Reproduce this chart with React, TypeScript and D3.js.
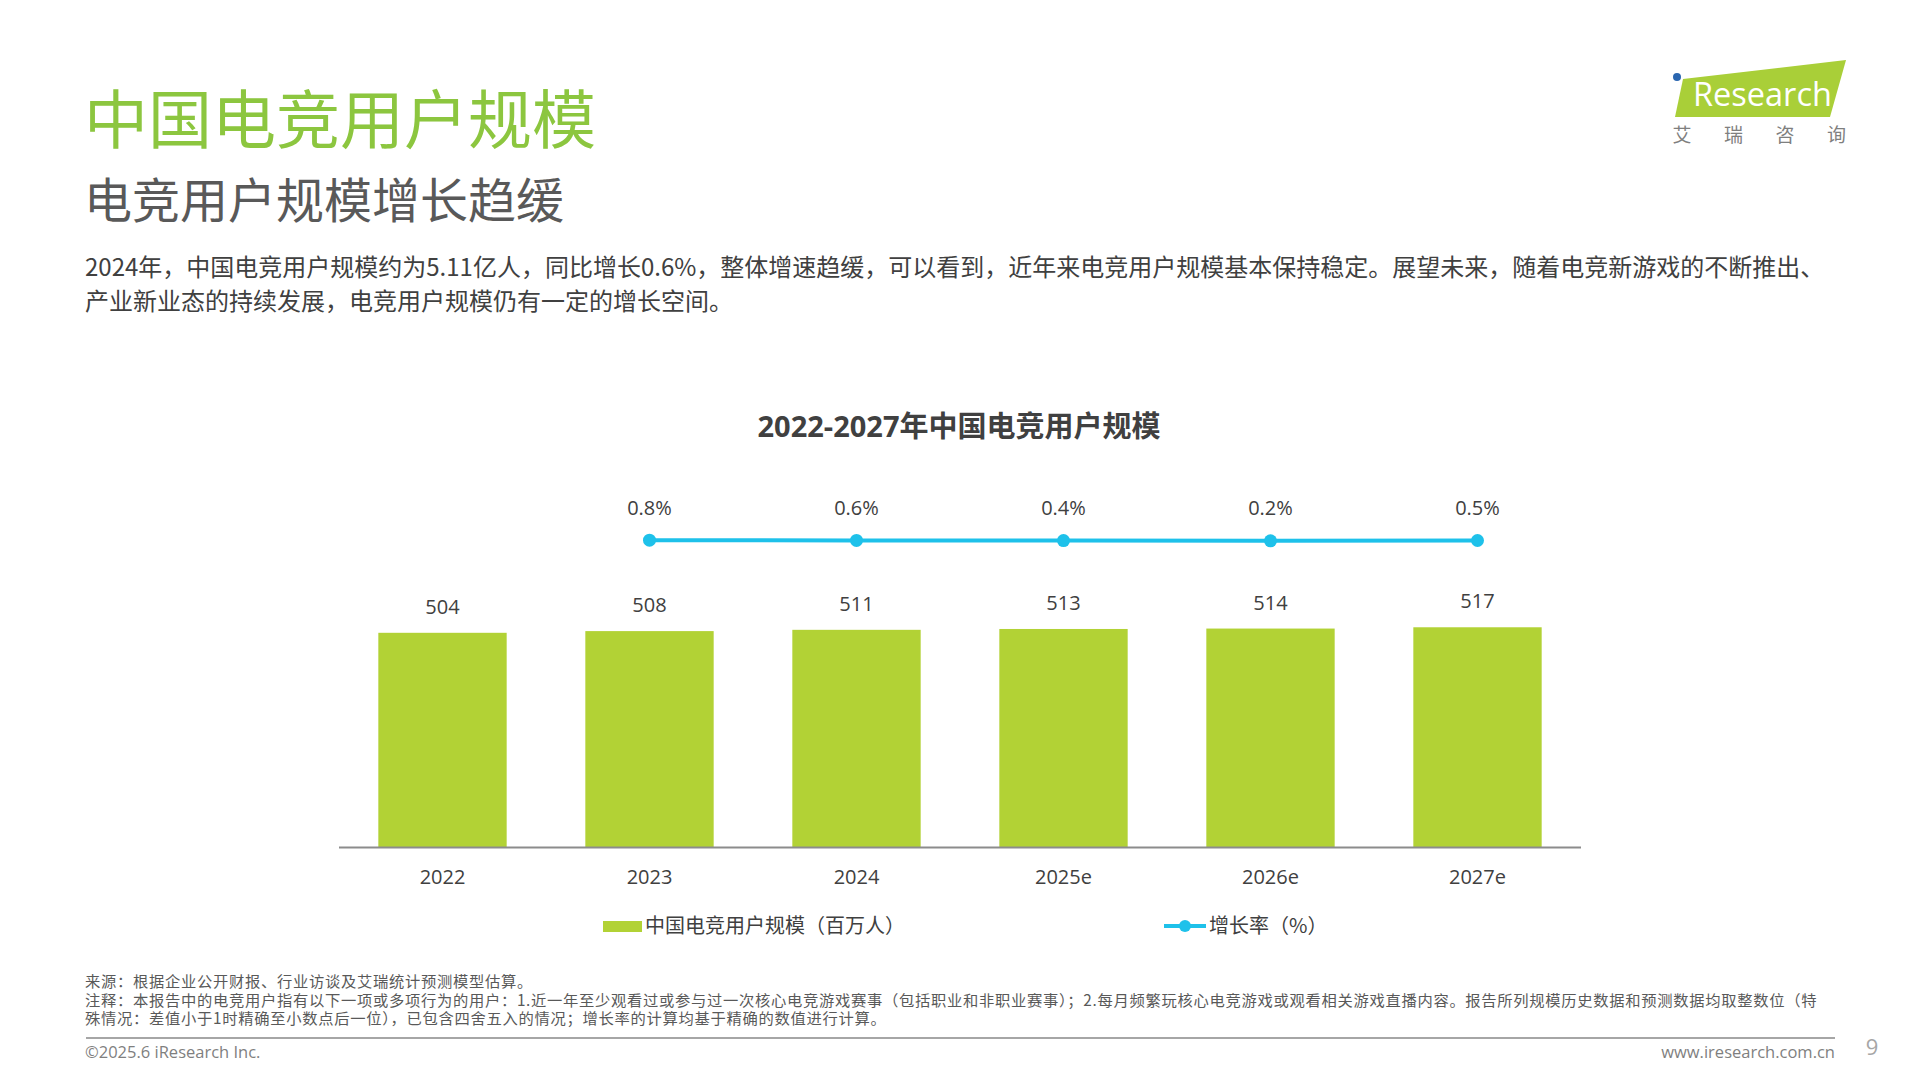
import React from "react";
import * as d3 from "d3";

const categories = ["2022", "2023", "2024", "2025e", "2026e", "2027e"];
const users = [504, 508, 511, 513, 514, 517];
const growthCats = ["2023", "2024", "2025e", "2026e", "2027e"];
const growth = [0.8, 0.6, 0.4, 0.2, 0.5];

const FONT = "'Open Sans', 'Noto Sans CJK SC', sans-serif";
const CJK = "'Noto Sans CJK SC', 'Open Sans', sans-serif";
const BAR = "#b2d235";
const LINE = "#1ec1ea";
const TXT = "#404040";

export default function App() {
  const x = d3.scaleBand<string>().domain(categories).range([339, 1581]).paddingInner(0.38).paddingOuter(0.19);
  const y = d3.scaleLinear().domain([0, 600]).range([847, 592]);
  const y2 = d3.scaleLinear().domain([0, 10]).range([541, 531]);
  const cx = (c: string) => (x(c) as number) + x.bandwidth() / 2;
  const lineGen = d3.line<number>().x((_, i) => cx(growthCats[i])).y((d) => y2(d));

  return (
    <div style={{ position: "absolute", left: 0, top: 0, width: 1920, height: 1080, background: "#fff" }}>
      <svg width={1920} height={1080} style={{ display: "block" }}>
        <rect width={1920} height={1080} fill="#fff" />
        {/* titles */}
        <text x={84} y={143} fontFamily={CJK} fontSize={64} fill="#8cc63f">中国电竞用户规模</text>
        <text x={84} y={218} fontFamily={CJK} fontSize={48} fill="#595959">电竞用户规模增长趋缓</text>
        <text x={85} y={276} fontFamily={CJK} fontSize={24} fill={TXT}>
          2024年，中国电竞用户规模约为5.11亿人，同比增长0.6%，整体增速趋缓，可以看到，近年来电竞用户规模基本保持稳定。展望未来，随着电竞新游戏的不断推出、
        </text>
        <text x={85} y={310} fontFamily={CJK} fontSize={24} fill={TXT}>
          产业新业态的持续发展，电竞用户规模仍有一定的增长空间。
        </text>

        {/* logo */}
        <polygon points="1683,79 1846,60 1830,117 1675,117" fill="#a9cf38" />
        <circle cx={1677} cy={77} r={4} fill="#2a66b0" />
        <text x={1693} y={106} fontFamily="'Open Sans', sans-serif" fontSize={32.5} fill="#fff">Research</text>
        {["艾", "瑞", "咨", "询"].map((c, i) => (
          <text key={c} x={1682 + i * 51.5} y={142} textAnchor="middle" fontFamily={CJK} fontSize={19} fill="#7f7f7f">{c}</text>
        ))}

        {/* chart title */}
        <text x={959} y={437} textAnchor="middle" fontFamily={FONT} fontSize={29} fontWeight="bold" fill={TXT}>2022-2027年中国电竞用户规模</text>

        {/* bars */}
        {categories.map((c, i) => (
          <g key={c}>
            <rect x={x(c)} y={y(users[i])} width={x.bandwidth()} height={y(0) - y(users[i])} fill={BAR} />
            <text x={cx(c)} y={y(users[i]) - 19} textAnchor="middle" fontFamily={FONT} fontSize={20} fill={TXT}>{users[i]}</text>
            <text x={cx(c)} y={884} textAnchor="middle" fontFamily={FONT} fontSize={20} fill={TXT}>{c}</text>
          </g>
        ))}
        <line x1={339} x2={1581} y1={y(0) + 0.5} y2={y(0) + 0.5} stroke="#8c8c8c" strokeWidth={2} />

        {/* growth line */}
        <path d={lineGen(growth) || ""} fill="none" stroke={LINE} strokeWidth={4} />
        {growth.map((g, i) => (
          <g key={i}>
            <circle cx={cx(growthCats[i])} cy={y2(g)} r={6.5} fill={LINE} />
            <text x={cx(growthCats[i])} y={515} textAnchor="middle" fontFamily={FONT} fontSize={20} fill={TXT}>{g.toFixed(1)}%</text>
          </g>
        ))}

        {/* legend */}
        <rect x={603} y={921} width={39} height={11} fill={BAR} />
        <text x={645} y={933} fontFamily={CJK} fontSize={20} fill={TXT}>中国电竞用户规模（百万人）</text>
        <line x1={1164} x2={1206} y1={926} y2={926} stroke={LINE} strokeWidth={4} />
        <circle cx={1185} cy={926} r={6} fill={LINE} />
        <text x={1209} y={933} fontFamily={CJK} fontSize={20} fill={TXT}>增长率（%）</text>

        {/* footnotes */}
        <g fontFamily={CJK} fontSize={15.3} letterSpacing={0.7} fill="#595959">
          <text x={85} y={987}>来源：根据企业公开财报、行业访谈及艾瑞统计预测模型估算。</text>
          <text x={85} y={1005.5}>注释：本报告中的电竞用户指有以下一项或多项行为的用户：1.近一年至少观看过或参与过一次核心电竞游戏赛事（包括职业和非职业赛事）；2.每月频繁玩核心电竞游戏或观看相关游戏直播内容。报告所列规模历史数据和预测数据均取整数位（特</text>
          <text x={85} y={1024}>殊情况：差值小于1时精确至小数点后一位），已包含四舍五入的情况；增长率的计算均基于精确的数值进行计算。</text>
        </g>
        <line x1={86} x2={1835} y1={1038} y2={1038} stroke="#a6a6a6" strokeWidth={2} />
        <text x={85} y={1058} fontFamily={FONT} fontSize={16.5} fill="#7f7f7f">©2025.6 iResearch Inc.</text>
        <text x={1835} y={1058} textAnchor="end" fontFamily={FONT} fontSize={16.5} fill="#7f7f7f">www.iresearch.com.cn</text>
        <text x={1872} y={1055} textAnchor="middle" fontFamily={FONT} fontSize={22} fill="#a6a6a6">9</text>
      </svg>
    </div>
  );
}
